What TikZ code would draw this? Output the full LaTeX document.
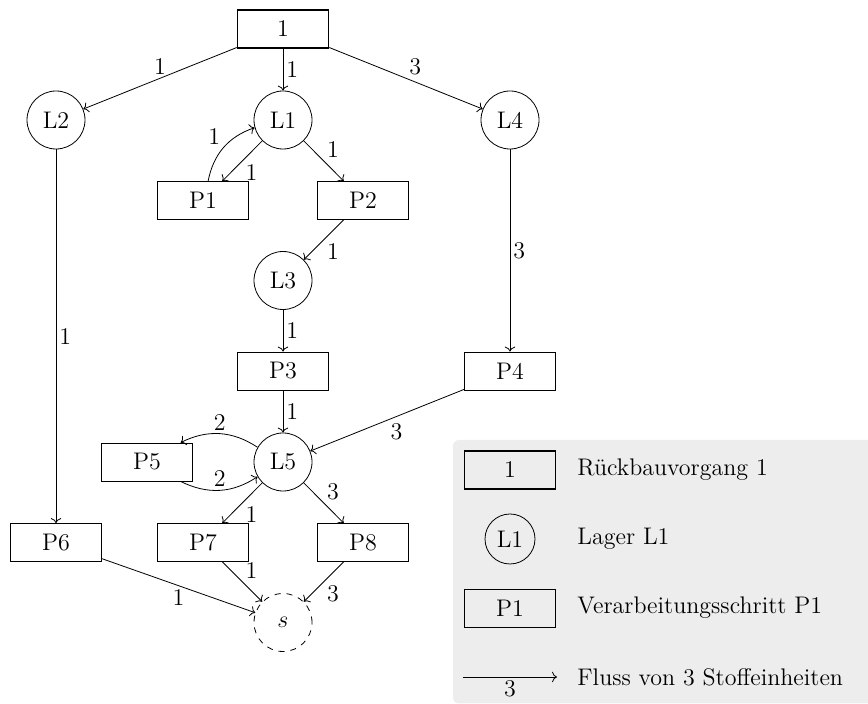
\documentclass[tikz,border=0pt]{standalone}
\usetikzlibrary{arrows.meta}
\definecolor{legendgray}{HTML}{EDEDED}
\begin{document}
\begin{tikzpicture}[x=0.5pt,y=-0.5pt,
  every node/.style={font=\fontsize{12}{14}\selectfont},
  store/.style={draw,circle,minimum size=29pt,inner sep=0pt},
  sink/.style={draw,dashed,circle,minimum size=29pt,inner sep=0pt},
  stepbox/.style={draw,rectangle,minimum width=45.5pt,minimum height=19pt,inner sep=0pt},
  deconstruction/.style={stepbox,thick},
  flow/.style={->},
  qty/.style={inner sep=1.5pt}]
\useasboundingbox (0,0) rectangle (868,704);

% legend background
\fill[legendgray,rounded corners=3pt] (453,440) rectangle (890,703.5);

% deconstruction step, stores and processing steps
\node[deconstruction] (top) at (283,29) {1};
\node[store] (L2) at (56,120) {L2};
\node[store] (L1) at (283,120) {L1};
\node[store] (L4) at (510,120) {L4};
\node[stepbox] (P1) at (203,200.5) {P1};
\node[stepbox] (P2) at (363,200.5) {P2};
\node[store] (L3) at (283,280.5) {L3};
\node[stepbox] (P3) at (283,371) {P3};
\node[stepbox] (P4) at (510,371) {P4};
\node[store] (L5) at (283,462) {L5};
\node[stepbox] (P5) at (147,462) {P5};
\node[stepbox] (P6) at (56,542.5) {P6};
\node[stepbox] (P7) at (203,542.5) {P7};
\node[stepbox] (P8) at (363,542.5) {P8};
\node[sink] (s) at (283,622.5) {$s$};

% material flows
\draw[flow] (top) -- node[qty,above] {1} (L2);
\draw[flow] (top) -- node[qty,right] {1} (L1);
\draw[flow] (top) -- node[qty,above right] {3} (L4);
\draw[flow] (L1) -- node[qty,below right] {1} (P1);
\draw[flow] (P1) to[bend left] node[qty,above left] {1} (L1);
\draw[flow] (L1) -- node[qty,above right] {1} (P2);
\draw[flow] (P2) -- node[qty,below right] {1} (L3);
\draw[flow] (L3) -- node[qty,right] {1} (P3);
\draw[flow] (P3) -- node[qty,right] {1} (L5);
\draw[flow] (L4) -- node[qty,right] {3} (P4);
\draw[flow] (L2) -- node[qty,right] {1} (P6);
\draw[flow] (P4) -- node[qty,below right] {3} (L5);
\draw[flow] (L5) to[bend right] node[qty,above] {2} (P5);
\draw[flow] (P5) to[bend right] node[qty,above] {2} (L5);
\draw[flow] (L5) -- node[qty,below right] {1} (P7);
\draw[flow] (L5) -- node[qty,above right] {3} (P8);
\draw[flow] (P7) -- node[qty,above right] {1} (s);
\draw[flow] (P8) -- node[qty,below right] {3} (s);
\draw[flow] (P6) -- node[qty,below] {1} (s);

% legend
\node[deconstruction] (lgA) at (510,470) {1};
\node[draw,circle,minimum size=25pt,inner sep=0pt] (lgB) at (510,539) {L1};
\node[stepbox] (lgC) at (510,608) {P1};
\coordinate (lgDa) at (463,677);
\coordinate (lgDb) at (557,677);
\draw[flow] (lgDa) -- node[qty,below] {3} (lgDb);
\node[anchor=west,inner sep=0pt] (tA) at (577,470) {Rückbauvorgang 1};
\node[anchor=west,inner sep=0pt] (tB) at (577,539) {Lager L1};
\node[anchor=west,inner sep=0pt] (tC) at (577,608) {Verarbeitungsschritt P1};
\node[anchor=west,inner sep=0pt] (tD) at (577,677) {Fluss von 3 Stoffeinheiten};
\end{tikzpicture}
\end{document}
